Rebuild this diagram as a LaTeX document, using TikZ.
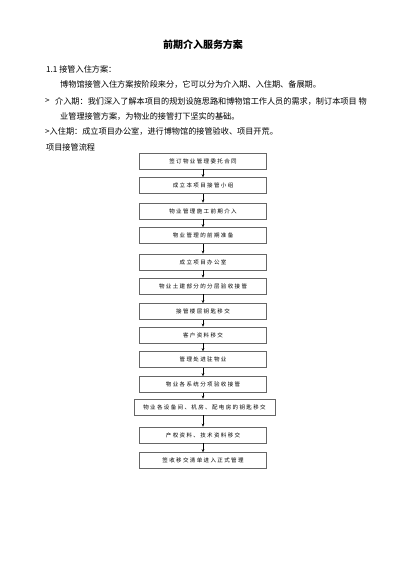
\documentclass[tikz,border=0pt]{standalone}
\usepackage{fontspec}
\setmainfont{Noto Sans CJK SC}
\newfontfamily\boxfont[LetterSpace=25]{Noto Sans CJK SC}
\usetikzlibrary{arrows.meta}
\begin{document}
\begin{tikzpicture}[x=1pt,y=-1pt,
 flowbox/.style={draw=black!60, line width=0.6pt, minimum width=127pt, minimum height=16pt, inner sep=0pt, font=\boxfont\fontsize{5.5}{6}\selectfont, text=black},
 arr/.style={-{Stealth[length=3pt,width=2.6pt]}, line width=0.6pt, black},
 body/.style={anchor=west, inner sep=0pt, font=\fontsize{8.15}{9}\selectfont}]
\useasboundingbox[fill=white] (0,0) rectangle (400,566);
\node[inner sep=0pt, font=\fontsize{10}{12}\selectfont\bfseries] (title) at (203,45) {前期介入服务方案};
\node[body] (l1) at (46,69) {1.1 接管入住方案：};
\node[body] (l2) at (60,84) {博物馆接管入住方案按阶段来分，它可以分为介入期、入住期、备展期。};
\node[body] (l3a) at (45,101) {>};
\node[body] (l3) at (55,101) {介入期：我们深入了解本项目的规划设施思路和博物馆工作人员的需求，制订本项目 物};
\node[body] (l4) at (60,116) {业管理接管方案，为物业的接管打下坚实的基础。};
\node[body] (l5) at (45,131.5) {>入住期：成立项目办公室，进行博物馆的接管验收、项目开荒。};
\node[body] (l6) at (46,147) {项目接管流程};

\node[flowbox] (b1) at (203,161) {签订物业管理委托合同};
\node[flowbox] (b2) at (203,185.5) {成立本项目接管小组};
\node[flowbox] (b3) at (203,211) {物业管理施工前期介入};
\node[flowbox] (b4) at (203,235.5) {物业管理的前期准备};
\node[flowbox] (b5) at (203,262) {成立项目办公室};
\node[flowbox] (b6) at (203,286) {物业土建部分的分层验收接管};
\node[flowbox] (b7) at (203,311.5) {接管楼层钥匙移交};
\node[flowbox] (b8) at (203,335) {客户资料移交};
\node[flowbox] (b9) at (203,359.5) {管理处进驻物业};
\node[flowbox] (b10) at (203,384.5) {物业各系统分项验收接管};
\node[flowbox, minimum width=141pt] (b11) at (204.5,407) {物业各设备间、机房、配电房的钥匙移交};
\node[flowbox] (b12) at (203,435) {产权资料、技术资料移交};
\node[flowbox] (b13) at (203,460.5) {签收移交清单进入正式管理};

\foreach \a/\b in {b1/b2,b2/b3,b3/b4,b4/b5,b5/b6,b6/b7,b7/b8,b8/b9,b9/b10,b10/b11,b11/b12,b12/b13}
  \draw[arr] (\a.south -| b1.south) -- (\b.north -| b1.south);
\end{tikzpicture}
\end{document}
